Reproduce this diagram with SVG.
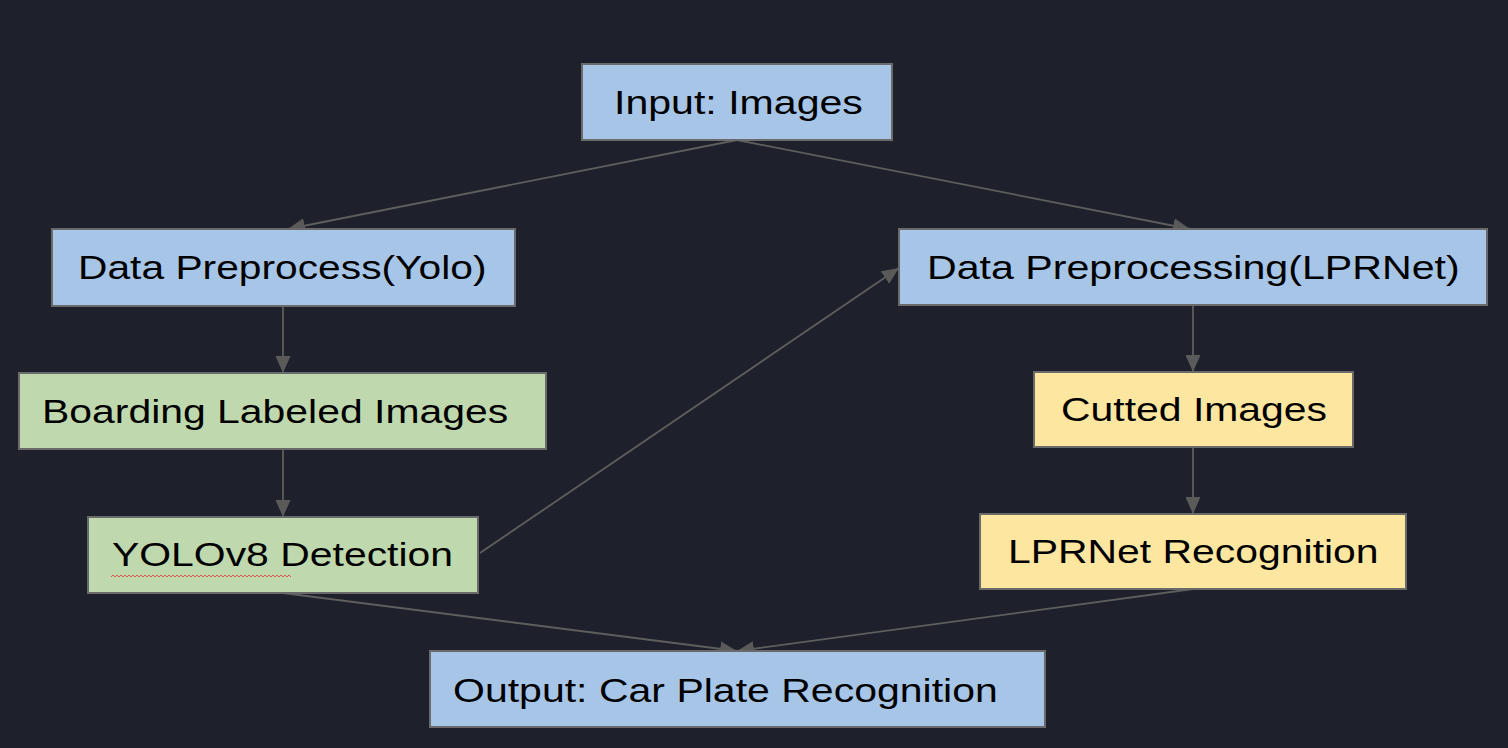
<svg xmlns="http://www.w3.org/2000/svg" width="1508" height="748" viewBox="0 0 1508 748">
<style>
.box{stroke:#6a6a6a;stroke-width:2}
.blue{fill:#a7c5e6}
.green{fill:#bfd8ad}
.yellow{fill:#fde6a0}
.lbl{font-family:"Liberation Sans",Arial,sans-serif;font-size:33px;fill:#000}
.edge{stroke:#5e5e5e;stroke-width:1.8;fill:none;marker-end:url(#arr)}
</style>
<defs>
<marker id="arr" viewBox="0 0 17 15" refX="17" refY="7.5" markerWidth="17" markerHeight="15" markerUnits="userSpaceOnUse" orient="auto">
<path d="M0,0 L17,7.5 L0,15 z" fill="#5a5a5a"/>
</marker>
</defs>
<rect width="1508" height="748" fill="#1e212b"/>
<g id="connectors">
<path class="edge" d="M737,140 L288,229"/>
<path class="edge" d="M737,140 L1190,229"/>
<path class="edge" d="M283,306 L283,373"/>
<path class="edge" d="M283,449 L283,517"/>
<path class="edge" d="M480,553 L899,268"/>
<path class="edge" d="M1193,305 L1193,372"/>
<path class="edge" d="M1193,447 L1193,514"/>
<path class="edge" d="M283,593 L737,651"/>
<path class="edge" d="M1193,589 L737,651"/>
</g>
<g id="input">
<rect class="box blue" x="582" y="64" width="310" height="76"/>
<text class="lbl" transform="matrix(1.245,0,0,1,614,114)">Input: Images</text>
</g>
<g id="prep-yolo">
<rect class="box blue" x="52" y="229" width="463" height="77"/>
<text class="lbl" transform="matrix(1.235,0,0,1,78,279)">Data Preprocess(Yolo)</text>
</g>
<g id="boarding">
<rect class="box green" x="19" y="373" width="527" height="76"/>
<text class="lbl" transform="matrix(1.24,0,0,1,42,423)">Boarding Labeled Images</text>
</g>
<g id="yolov8">
<rect class="box green" x="88" y="517" width="390" height="76"/>
<text class="lbl" transform="matrix(1.24,0,0,1,112,566)">YOLOv8 Detection</text>
<path d="M111,577 l2,-2 l2,2 l2,-2 l2,2 l2,-2 l2,2 l2,-2 l2,2 l2,-2 l2,2 l2,-2 l2,2 l2,-2 l2,2 l2,-2 l2,2 l2,-2 l2,2 l2,-2 l2,2 l2,-2 l2,2 l2,-2 l2,2 l2,-2 l2,2 l2,-2 l2,2 l2,-2 l2,2 l2,-2 l2,2 l2,-2 l2,2 l2,-2 l2,2 l2,-2 l2,2 l2,-2 l2,2 l2,-2 l2,2 l2,-2 l2,2 l2,-2 l2,2 l2,-2 l2,2 l2,-2 l2,2 l2,-2 l2,2 l2,-2 l2,2 l2,-2 l2,2 l2,-2 l2,2 l2,-2 l2,2 l2,-2 l2,2 l2,-2 l2,2 l2,-2 l2,2 l2,-2 l2,2 l2,-2 l2,2 l2,-2 l2,2 l2,-2 l2,2 l2,-2 l2,2 l2,-2 l2,2 l2,-2 l2,2 l2,-2 l2,2 l2,-2 l2,2 l2,-2 l2,2 l2,-2 l2,2 l2,-2 l2,2" fill="none" stroke="#e0524f" stroke-width="1"/>
</g>
<g id="prep-lpr">
<rect class="box blue" x="899" y="229" width="588" height="76"/>
<text class="lbl" transform="matrix(1.247,0,0,1,927,279)">Data Preprocessing(LPRNet)</text>
</g>
<g id="cutted">
<rect class="box yellow" x="1034" y="372" width="319" height="75"/>
<text class="lbl" transform="matrix(1.24,0,0,1,1061,421)">Cutted Images</text>
</g>
<g id="lprnet">
<rect class="box yellow" x="980" y="514" width="426" height="75"/>
<text class="lbl" transform="matrix(1.24,0,0,1,1008,563)">LPRNet Recognition</text>
</g>
<g id="output">
<rect class="box blue" x="430" y="651" width="615" height="76"/>
<text class="lbl" transform="matrix(1.243,0,0,1,453,702)">Output: Car Plate Recognition</text>
</g>
</svg>
